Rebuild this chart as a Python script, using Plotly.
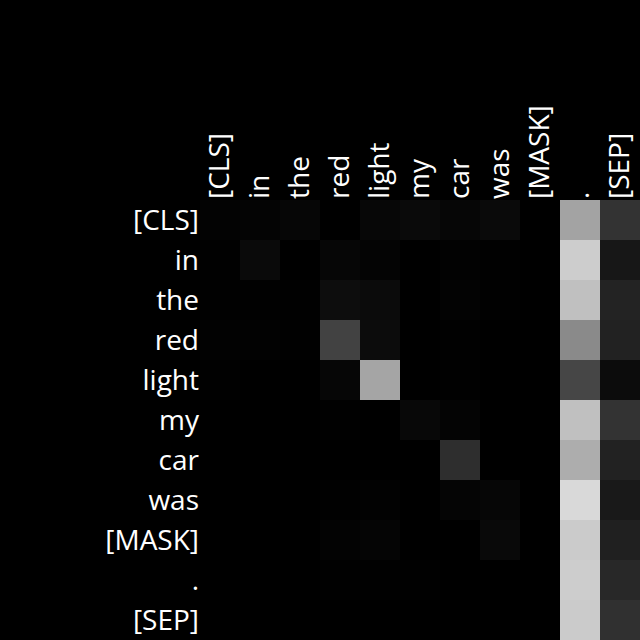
import plotly.graph_objects as go

tokens = ['[CLS]', 'in', 'the', 'red', 'light', 'my', 'car', 'was', '[MASK]', '.', '[SEP]']

# attention weights per row (query token)
row_cls = [0.012, 0.016, 0.024, 0.0, 0.027, 0.039, 0.024, 0.039, 0.0, 0.639, 0.2]
row_in = [0.004, 0.039, 0.0, 0.024, 0.016, 0.0, 0.008, 0.004, 0.0, 0.804, 0.09]
row_the = [0.004, 0.004, 0.004, 0.051, 0.043, 0.0, 0.012, 0.004, 0.0, 0.753, 0.137]
row_red = [0.008, 0.008, 0.004, 0.259, 0.047, 0.0, 0.004, 0.0, 0.0, 0.541, 0.133]
row_light = [0.004, 0.0, 0.0, 0.024, 0.647, 0.0, 0.004, 0.0, 0.0, 0.275, 0.047]
row_my = [0.0, 0.0, 0.0, 0.004, 0.0, 0.031, 0.016, 0.0, 0.0, 0.753, 0.2]
row_car = [0.0, 0.0, 0.0, 0.0, 0.0, 0.0, 0.18, 0.0, 0.0, 0.678, 0.133]
row_was = [0.0, 0.0, 0.0, 0.004, 0.008, 0.0, 0.02, 0.024, 0.0, 0.851, 0.098]
row_mask = [0.0, 0.0, 0.0, 0.012, 0.02, 0.0, 0.0, 0.035, 0.0, 0.796, 0.125]
row_dot = [0.0, 0.0, 0.0, 0.004, 0.004, 0.004, 0.0, 0.0, 0.0, 0.804, 0.157]
row_sep = [0.0, 0.0, 0.0, 0.0, 0.0, 0.0, 0.0, 0.0, 0.0, 0.796, 0.188]

z = [row_cls, row_in, row_the, row_red, row_light, row_my,
     row_car, row_was, row_mask, row_dot, row_sep]

fig = go.Figure(go.Heatmap(
    z=z,
    x=tokens,
    y=tokens,
    zmin=0,
    zmax=1,
    colorscale=[[0, 'black'], [1, 'white']],
    showscale=False,
))

fig.update_layout(
    width=640,
    height=640,
    margin=dict(l=200, r=0, t=200, b=0),
    paper_bgcolor='black',
    plot_bgcolor='black',
    font=dict(family='Open Sans', size=28, color='white'),
    xaxis=dict(side='top', tickangle=-90, showgrid=False, zeroline=False,
               ticks='', tickfont=dict(size=28)),
    yaxis=dict(autorange='reversed', showgrid=False, zeroline=False,
               ticks='', tickfont=dict(size=28)),
)

# drop the page's default body margin so the 640x640 figure fills the window
fig.write_html("out.html",
               config={'displayModeBar': False},
               post_script="document.body.style.margin='0';"
                           "document.body.style.background='black';")
